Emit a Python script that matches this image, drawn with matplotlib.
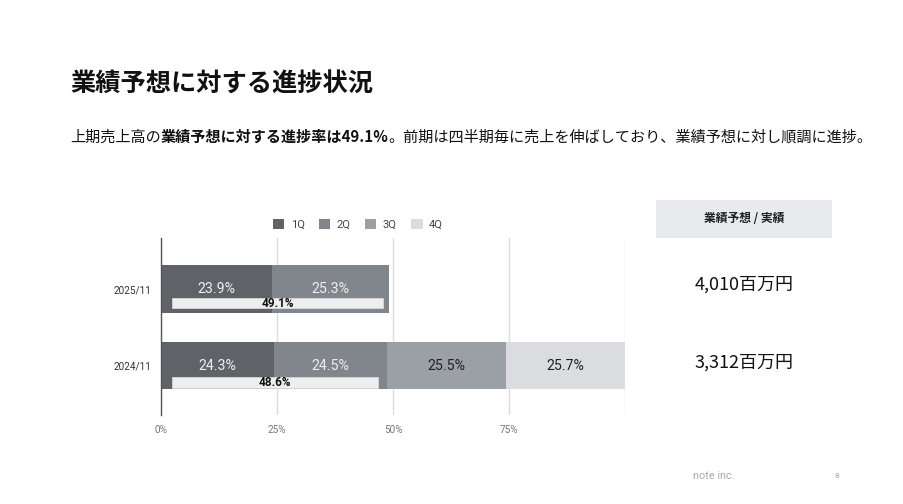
import matplotlib
matplotlib.use("Agg")
import matplotlib.pyplot as plt
from matplotlib.patches import Patch, Rectangle

plt.rcParams['font.family'] = ['Noto Sans CJK JP', 'DejaVu Sans']

# ---------------- data ----------------
periods = ['2024/11', '2025/11']
quarters = ['1Q', '2Q', '3Q', '4Q']
q_values = {
    '1Q': [24.3, 23.9],
    '2Q': [24.5, 25.3],
    '3Q': [25.5, None],
    '4Q': [25.7, None],
}
progress_labels = ['48.6%', '49.1%']
progress_bar_start = [2.4, 2.4]
progress_bar_end = [46.8, 47.9]
amounts = ['3,312百万円', '4,010百万円']
xticks = [0, 25, 50, 75]
xtick_labels = ['0%', '25%', '50%', '75%']

title = '業績予想に対する進捗状況'
subtitle_parts = [
    ('上期売上高の', 'normal'),
    ('業績予想に対する進捗率は49.1%', 'bold'),
    ('。前期は四半期毎に売上を伸ばしており、業績予想に対し順調に進捗。', 'normal'),
]
panel_header = '業績予想 / 実績'

# ---------------- style ----------------
colors = {'1Q': '#5f6368', '2Q': '#80868b', '3Q': '#9aa0a6', '4Q': '#dadce0'}
label_colors = {'1Q': '#eeeeee', '2Q': '#eeeeee', '3Q': '#222222', '4Q': '#222222'}

W, H = 904, 504
fig = plt.figure(figsize=(W / 100, H / 100), dpi=100)
fig.patch.set_facecolor('white')

def fx(px):
    return px / W

def fy(py):
    return 1 - py / H

ax = fig.add_axes([fx(161), fy(415), fx(625) - fx(161), fy(238) - fy(415)])
ax.set_xlim(0, 100)
ax.set_ylim(-0.65, 1.675)

ypos = list(range(len(periods)))
bar_h = 0.63
left = [0.0] * len(periods)
for q in quarters:
    vals = q_values[q]
    for i, v in enumerate(vals):
        if v is None:
            continue
        ax.barh(ypos[i], v, left=left[i], height=bar_h, color=colors[q],
                edgecolor='none', zorder=3)
        ax.text(left[i] + v / 2, ypos[i], f'{v:.1f}%', ha='center', va='center',
                fontsize=10.2, color=label_colors[q], family=['Roboto', 'DejaVu Sans'],
                zorder=5)
        left[i] += v

# progress overlay bars
inner_off = [0.22, 0.18]
inner_h = 0.14
for i in range(len(periods)):
    s, e = progress_bar_start[i], progress_bar_end[i]
    ax.barh(ypos[i] - inner_off[i], e - s, left=s, height=inner_h, color='#eceeef',
            edgecolor='#e0e0e0', linewidth=0.5, zorder=4)
    ax.text((s + e) / 2, ypos[i] - inner_off[i], progress_labels[i], ha='center',
            va='center', fontsize=8.5, fontweight='bold', color='#111111',
            family=['Roboto', 'DejaVu Sans'], zorder=6)

ax.set_yticks(ypos)
ax.set_yticklabels(periods, fontsize=7.2, color='#333333', family=['Roboto', 'DejaVu Sans'])
ax.set_xticks(xticks + [100])
ax.set_xticklabels(xtick_labels + [''], fontsize=7.2, color='#777777',
                   family=['Roboto', 'DejaVu Sans'])
ax.tick_params(axis='both', length=0, pad=7)
ax.grid(axis='x', color='#dddddd', linewidth=1, zorder=0)
for side in ['top', 'right', 'bottom']:
    ax.spines[side].set_visible(False)
ax.spines['left'].set_color('#555555')
ax.spines['left'].set_linewidth(1)
ax.spines['left'].set_zorder(6)

handles = [Patch(facecolor=colors[q], edgecolor='none', label=q) for q in quarters]
leg = fig.legend(handles=handles, loc='center', bbox_to_anchor=(fx(358), fy(224)),
                 ncol=4, frameon=False, handlelength=1.0,
                 handleheight=1.0, handletextpad=0.6, columnspacing=1.3,
                 prop={'family': ['Roboto', 'DejaVu Sans'], 'size': 8})
for t in leg.get_texts():
    t.set_color('#444444')

# title
fig.text(fx(70), fy(84), title, fontsize=18.2, fontweight='bold', color='#111111',
         ha='left', va='center')

# subtitle with mixed weights
renderer = fig.canvas.get_renderer()
xcur = 70
for txt, wt in subtitle_parts:
    t = fig.text(fx(xcur), fy(137), txt, fontsize=10.9, fontweight=wt, color='#111111',
                 ha='left', va='center')
    bb = t.get_window_extent(renderer=renderer)
    xcur += bb.width

# right panel
fig.patches.append(Rectangle((fx(656), fy(238)), fx(832) - fx(656), fy(200) - fy(238),
                             transform=fig.transFigure, facecolor='#e8eaed',
                             edgecolor='none'))
fig.text(fx(744), fy(219), panel_header, fontsize=8.5, fontweight='bold',
         color='#222222', ha='center', va='center')
amount_y = [363, 285]
for i in range(len(periods)):
    fig.text(fx(744), fy(amount_y[i]), amounts[i], fontsize=13, color='#111111',
             ha='center', va='center')

# footer
fig.text(fx(714), fy(476), 'note inc.', fontsize=7.8, color='#aaaaaa', ha='center',
         va='center', family=['Roboto', 'DejaVu Sans'])
fig.text(fx(837), fy(476), '8', fontsize=6, color='#aaaaaa', ha='center',
         va='center', family=['Roboto', 'DejaVu Sans'])

fig.savefig('out.png', dpi=100, facecolor='white')
